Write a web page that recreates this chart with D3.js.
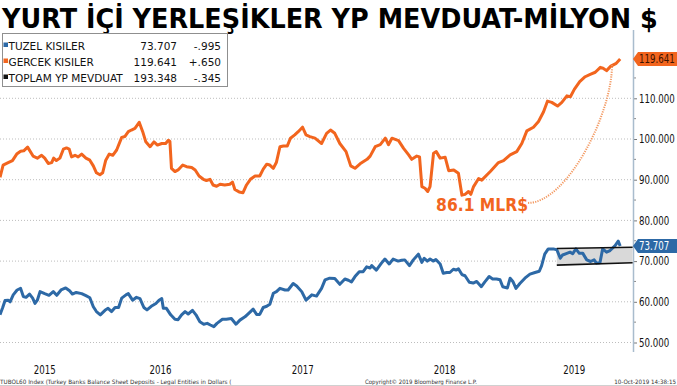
<!DOCTYPE html>
<html><head><meta charset="utf-8">
<script src="https://cdn.jsdelivr.net/npm/d3@7"></script>
<style>
html,body{margin:0;padding:0;background:#fff;}
svg{display:block;}
</style></head>
<body>
<svg id="c" width="677" height="386"></svg>
<script>
const title = "YURT İÇİ YERLEŞİKLER YP MEVDUAT-MİLYON $";
const legendNames = ["TUZEL KISILER", "GERCEK KISILER", "TOPLAM YP MEVDUAT"];
const legendLast = ["73.707", "119.641", "193.348"];
const legendChange = ["-.995", "+.650", "-.345"];
const yTicks = [50, 60, 70, 80, 90, 100, 110];
const yMinorTicks = [55, 65, 75, 85, 95, 105, 115];
const years = [2015, 2016, 2017, 2018, 2019];
const footerLeft = "TUBOL60 Index (Turkey Banks Balance Sheet Deposits - Legal Entities in Dollars (";
const footerMid = "Copyright© 2019 Bloomberg Finance L.P.";
const footerRight = "10-Oct-2019 14:38:15";
const annotationText = "86.1 MLR$";

const orangeDates = ["2015-05-16","2015-05-24","2015-06-06","2015-06-17","2015-06-28","2015-07-08","2015-07-16","2015-07-26","2015-08-09","2015-08-20","2015-08-31","2015-09-08","2015-09-17","2015-09-26","2015-10-01","2015-10-08","2015-10-17","2015-10-26","2015-11-03","2015-11-10","2015-11-16","2015-11-25","2015-12-03","2015-12-12","2015-12-23","2016-01-02","2016-01-11","2016-01-19","2016-01-28","2016-02-04","2016-02-12","2016-02-21","2016-03-01","2016-03-11","2016-03-24","2016-04-01","2016-04-10","2016-04-18","2016-04-27","2016-05-08","2016-05-17","2016-05-25","2016-06-05","2016-06-15","2016-06-24","2016-07-05","2016-07-15","2016-07-22","2016-07-26","2016-07-30","2016-08-08","2016-08-16","2016-08-28","2016-09-07","2016-09-20","2016-09-29","2016-10-09","2016-10-20","2016-10-28","2016-11-06","2016-11-14","2016-11-23","2016-12-02","2016-12-14","2016-12-27","2017-01-03","2017-01-09","2017-01-20","2017-01-30","2017-02-08","2017-02-18","2017-03-02","2017-03-14","2017-03-23","2017-04-01","2017-04-09","2017-04-18","2017-04-26","2017-05-05","2017-05-14","2017-05-24","2017-06-01","2017-06-12","2017-06-21","2017-07-02","2017-07-11","2017-07-21","2017-08-03","2017-08-20","2017-09-02","2017-09-12","2017-09-23","2017-10-06","2017-10-22","2017-11-03","2017-11-14","2017-11-27","2017-12-15","2017-12-23","2018-01-05","2018-01-18","2018-01-31","2018-02-08","2018-02-17","2018-03-06","2018-03-19","2018-04-01","2018-04-09","2018-04-22","2018-04-29","2018-05-05","2018-05-13","2018-05-20","2018-05-26","2018-06-04","2018-06-11","2018-06-21","2018-07-04","2018-07-13","2018-07-26","2018-08-07","2018-08-16","2018-08-24","2018-09-02","2018-09-08","2018-09-15","2018-09-28","2018-10-06","2018-10-28","2018-11-18","2018-12-01","2018-12-18","2019-01-04","2019-01-17","2019-01-30","2019-02-16","2019-03-01","2019-03-14","2019-03-24","2019-04-04","2019-04-19","2019-04-30","2019-05-13","2019-05-22","2019-06-01","2019-06-15","2019-06-29","2019-07-12","2019-07-25","2019-08-07","2019-08-14","2019-08-23","2019-09-03","2019-09-17","2019-09-27"];
const orangeValues = [90.6,93.6,94.2,94.7,96.3,97.0,97.1,98.0,95.8,95.3,96.0,95.3,94.0,94.2,95.3,94.7,95.3,97.5,97.8,97.5,95.6,96.0,95.6,96.3,95.3,94.8,93.4,91.7,91.2,91.7,94.8,96.3,96.0,97.3,100.4,100.6,101.8,102.2,102.6,104.1,101.8,99.3,98.1,99.3,98.5,98.9,98.9,99.7,99.4,92.8,92.0,92.4,93.6,93.2,93.0,92.4,90.9,90.1,89.8,90.1,88.7,88.4,88.9,88.7,88.9,89.4,87.6,87.0,86.8,88.7,90.1,90.9,90.9,92.6,93.8,93.6,92.8,94.3,98.1,98.3,98.3,100.2,101.0,101.8,102.9,101.0,100.6,100.2,98.9,101.4,102.2,101.4,98.9,96.9,93.4,92.8,93.9,95.0,95.8,98.1,98.6,100.2,98.6,100.2,99.6,97.7,96.1,95.0,95.8,95.6,88.3,87.9,87.1,88.3,96.5,96.9,95.3,95.5,92.2,92.4,91.6,86.2,86.4,87.1,86.4,88.3,90.3,89.9,92.0,94.2,94.7,96.1,96.9,98.9,102.0,102.9,104.3,106.7,109.3,109.0,108.1,109.0,110.6,110.4,112.2,114.1,115.3,115.9,116.4,117.6,117.4,116.8,117.9,118.6,119.641];

const blueDates = ["2015-05-16","2015-05-23","2015-05-29","2015-06-06","2015-06-11","2015-06-19","2015-06-29","2015-07-08","2015-07-15","2015-07-22","2015-07-31","2015-08-08","2015-08-14","2015-08-20","2015-08-27","2015-09-08","2015-09-19","2015-09-30","2015-10-09","2015-10-20","2015-11-01","2015-11-11","2015-11-18","2015-11-28","2015-12-12","2015-12-23","2016-01-02","2016-01-11","2016-01-19","2016-01-29","2016-02-10","2016-02-18","2016-02-27","2016-03-07","2016-03-16","2016-03-24","2016-04-04","2016-04-10","2016-04-21","2016-05-01","2016-05-10","2016-05-20","2016-05-28","2016-06-08","2016-06-20","2016-06-28","2016-07-05","2016-07-09","2016-07-17","2016-07-28","2016-08-08","2016-08-16","2016-08-25","2016-09-03","2016-09-11","2016-09-22","2016-10-01","2016-10-11","2016-10-21","2016-10-30","2016-11-07","2016-11-16","2016-11-24","2016-12-08","2016-12-18","2016-12-31","2017-01-12","2017-01-22","2017-02-04","2017-02-15","2017-02-25","2017-03-06","2017-03-14","2017-03-23","2017-04-01","2017-04-09","2017-04-18","2017-04-26","2017-05-05","2017-05-18","2017-05-26","2017-06-08","2017-06-17","2017-06-30","2017-07-11","2017-07-26","2017-08-07","2017-08-20","2017-08-29","2017-09-10","2017-09-23","2017-10-06","2017-10-19","2017-10-28","2017-11-05","2017-11-14","2017-11-25","2017-12-05","2017-12-14","2017-12-23","2017-12-27","2018-01-08","2018-01-21","2018-01-30","2018-02-10","2018-02-20","2018-03-05","2018-03-14","2018-03-22","2018-04-03","2018-04-13","2018-04-26","2018-05-05","2018-05-11","2018-05-19","2018-05-26","2018-06-03","2018-06-10","2018-06-21","2018-06-29","2018-07-08","2018-07-16","2018-07-25","2018-08-01","2018-08-07","2018-08-16","2018-08-24","2018-09-04","2018-09-14","2018-09-23","2018-10-05","2018-10-14","2018-10-25","2018-11-03","2018-11-13","2018-11-22","2018-11-29","2018-12-11","2018-12-18","2018-12-25","2019-01-02","2019-01-12","2019-01-25","2019-02-07","2019-02-20","2019-03-03","2019-03-09","2019-03-17","2019-03-26","2019-04-08","2019-04-17","2019-04-26","2019-05-02","2019-05-13","2019-05-21","2019-05-28","2019-06-05","2019-06-14","2019-06-23","2019-07-03","2019-07-13","2019-07-22","2019-07-28","2019-08-06","2019-08-13","2019-08-23","2019-09-01","2019-09-14","2019-09-22","2019-09-27"];
const blueValues = [56.8,58.6,60.3,60.4,60.0,61.7,62.9,63.3,61.3,61.1,61.9,60.9,59.6,60.4,62.5,62.0,61.6,62.5,61.6,62.9,63.4,62.7,61.9,62.3,62.0,61.5,61.0,58.8,57.6,56.8,57.9,58.4,57.6,58.6,58.6,60.9,61.7,62.0,60.4,61.1,60.8,58.6,58.0,58.9,59.6,60.4,60.8,58.4,58.4,56.8,55.7,55.6,56.8,57.6,57.0,57.9,56.8,55.1,54.5,54.7,54.3,53.9,54.7,55.7,55.7,55.9,54.5,55.5,56.3,57.3,58.2,56.9,56.9,58.6,58.9,59.4,62.1,62.5,63.3,62.9,62.9,64.5,63.9,62.5,60.4,61.7,61.4,63.3,65.4,65.8,65.7,64.3,65.6,65.3,64.9,66.2,67.4,67.4,68.6,68.3,68.9,67.8,69.5,70.5,69.3,70.5,70.0,70.2,70.3,68.9,70.3,71.7,69.7,70.7,70.0,70.5,70.0,70.4,69.3,67.0,67.2,67.2,68.0,67.8,68.1,66.7,66.4,64.8,64.6,65.0,63.7,64.9,66.2,65.6,65.6,65.4,63.7,63.4,65.8,65.0,63.3,64.5,65.8,66.8,67.2,67.5,68.9,71.7,73.0,73.0,72.8,70.7,71.5,71.9,72.2,71.8,73.0,71.9,71.9,70.3,69.9,70.3,69.5,69.6,73.0,72.2,72.6,73.8,74.9,73.707];

// channel annotation (dates and values)
const channelDates = ["2019-04-17", "2019-10-29"];
const channelTop = [73.1, 73.4];
const channelBottom = [69.0, 69.6];
// dotted arc annotation: start, control1, control2, end
const arcDates = ["2019-02-02", "2019-05-12", "2019-09-06", "2019-09-06"];
const arcValues = [84.3, 84.3, 106.0, 118.2];

const ORANGE = "#f2651e", BLUE = "#2d69a6";
const parse = d3.timeParse("%Y-%m-%d");
const svg = d3.select("#c");
const FF = "DejaVu Sans, sans-serif";

const x = d3.scaleTime().domain([new Date(2015,4,16), new Date(2019,9,30)]).range([0, 633]);
const y = d3.scaleLinear().domain([50, 110]).range([342.5, 98.3]);

const NARROW = 0.72;
// text squeezed horizontally to a given width via a transform
function scaledText(parent, str, px, py, anchor, size, width, opts = {}) {
  const g = parent.append("g");
  const t = g.append("text").attr("font-family", FF).attr("font-size", size)
    .attr("font-weight", opts.weight || "normal").attr("fill", opts.fill || "#111")
    .attr("text-anchor", anchor).text(str);
  const w = t.node().getComputedTextLength();
  const s = width ? width / w : (opts.factor || 1);
  g.attr("transform", `translate(${px},${py}) scale(${s},1)`);
  return t;
}

// gridlines
svg.append("g").selectAll("line").data(yTicks).join("line")
  .attr("x1", 0).attr("x2", 633).attr("y1", d=>y(d)).attr("y2", d=>y(d))
  .attr("stroke", "#bdbdbd").attr("stroke-width", 1).attr("stroke-dasharray", "1,2");

// right axis
const axis = d3.axisRight(y).tickValues(yTicks).tickSize(4).tickPadding(2).tickFormat(d3.format(".3f"));
const gA = svg.append("g").attr("transform", "translate(633,0)").call(axis);
gA.select(".domain").remove();
gA.selectAll(".tick line").attr("stroke", "#777");
gA.selectAll(".tick text").attr("font-family", FF).attr("font-size", 12).attr("fill", "#111")
  .attr("x", 6 / NARROW).attr("transform", `scale(${NARROW},1)`);
svg.append("g").selectAll("line").data(yMinorTicks).join("line")
  .attr("x1", 633).attr("x2", 636).attr("y1", d=>y(d)).attr("y2", d=>y(d)).attr("stroke", "#888");
svg.append("line").attr("x1", 633.5).attr("x2", 633.5).attr("y1", 30).attr("y2", 352).attr("stroke", "#a9bccd").attr("stroke-width", 1.5);

// channel
const cx = channelDates.map(parse);
svg.append("path")
  .attr("d", `M${x(cx[0])},${y(channelTop[0])}L${x(cx[1])},${y(channelTop[1])}L${x(cx[1])},${y(channelBottom[1])}L${x(cx[0])},${y(channelBottom[0])}Z`)
  .attr("fill", "#d9d9d9");

// lines
const line = d3.line().x(d=>x(d[0])).y(d=>y(d[1]));
const orangeData = orangeDates.map((d,i)=>[parse(d), orangeValues[i]]);
const blueData = blueDates.map((d,i)=>[parse(d), blueValues[i]]);
svg.append("path").datum(blueData).attr("d", line).attr("fill","none").attr("stroke", BLUE).attr("stroke-width", 3).attr("stroke-linejoin","round");
svg.append("path").datum(orangeData).attr("d", line).attr("fill","none").attr("stroke", ORANGE).attr("stroke-width", 3).attr("stroke-linejoin","round");

// channel borders
[channelTop, channelBottom].forEach(v=>{
  svg.append("line").attr("x1", x(cx[0])).attr("x2", x(cx[1])).attr("y1", y(v[0])).attr("y2", y(v[1]))
    .attr("stroke", "#111").attr("stroke-width", 1.6);
});

// dotted arc
const ap = arcDates.map((d,i)=>[x(parse(d)), y(arcValues[i])]);
svg.append("path").attr("d", `M${ap[0]}C${ap[1]} ${ap[2]} ${ap[3]}`)
  .attr("fill","none").attr("stroke", "#f39a63").attr("stroke-width", 2).attr("stroke-dasharray", "1.2,1.2");
scaledText(svg, annotationText, ap[0][0], ap[0][1] + 8, "end", 17, 92, {weight: "bold", fill: ORANGE});

// value boxes on axis
function valueBox(v, label, fill, txt){
  const yy = y(v), h = 14;
  svg.append("path").attr("d", `M633,${yy}L638,${yy-h/2}L677,${yy-h/2}L677,${yy+h/2}L638,${yy+h/2}Z`).attr("fill", fill);
  scaledText(svg, label, 639, yy + 4, "start", 12, null, {factor: NARROW, fill: txt});
}
valueBox(orangeValues[orangeValues.length-1], legendLast[1], ORANGE, "#3a1200");
valueBox(blueValues[blueValues.length-1], legendLast[0], BLUE, "#fff");

// year labels
const [d0, d1] = x.domain();
years.forEach(yr => {
  const a = new Date(Math.max(d0, new Date(yr,0,1))), b = new Date(Math.min(d1, new Date(yr+1,0,1)));
  scaledText(svg, String(yr), (x(a)+x(b))/2, 373.5, "middle", 11.5, 22);
});

// title
scaledText(svg, title, 2, 28, "start", 26, 656, {weight: "bold", fill: "#000"});

// legend
svg.append("rect").attr("x", 2.5).attr("y", 33.5).attr("width", 225).attr("height", 53).attr("fill","#fff").attr("stroke","#8f8f8f");
const legColors = [BLUE, ORANGE, "#111"];
const lg = svg.append("g").selectAll("g").data(legendNames).join("g").attr("transform",(d,i)=>`translate(0,${49.5 + i*16})`);
lg.append("rect").attr("x", 3.5).attr("y", -7).attr("width", 4.5).attr("height", 4.5).attr("fill",(d,i)=>legColors[i]);
lg.append("text").attr("x", 8.5).attr("font-family",FF).attr("font-size", 10.5).attr("fill","#111").text(d=>d);
lg.append("text").attr("x", 177).attr("text-anchor","end").attr("font-family",FF).attr("font-size", 10.5).attr("fill","#111").text((d,i)=>legendLast[i]);
lg.append("text").attr("x", 221).attr("text-anchor","end").attr("font-family",FF).attr("font-size", 10.5).attr("fill","#111").text((d,i)=>legendChange[i]);

// footer
scaledText(svg, footerLeft, 0, 383.5, "start", 6, 232, {fill: "#333"});
scaledText(svg, footerMid, 365, 383.5, "start", 6, 112, {fill: "#333"});
scaledText(svg, footerRight, 676, 383.5, "end", 6, 62, {fill: "#333"});
svg.append("line").attr("x1",0).attr("x2",677).attr("y1",385.5).attr("y2",385.5).attr("stroke","#d0d0d0");
</script>
</body></html>
